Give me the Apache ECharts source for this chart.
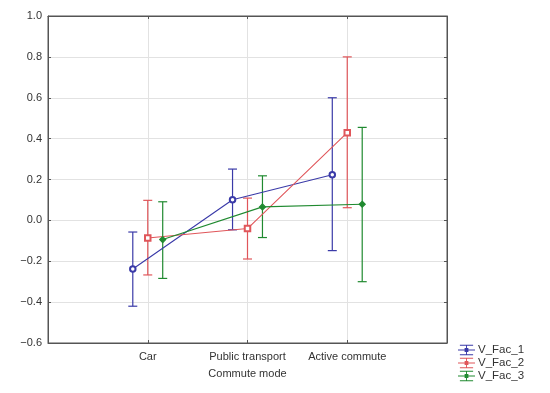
<!DOCTYPE html>
<html><head><meta charset="utf-8">
<script src="https://cdn.jsdelivr.net/npm/echarts@6/dist/echarts.min.js"></script>
<style>html,body{margin:0;padding:0;background:#fff}#c{width:550px;height:393px}</style>
</head><body><div id="c"></div>
<script>
var categories = ['Car', 'Public transport', 'Active commute'];
var seriesNames = ['V_Fac_1', 'V_Fac_2', 'V_Fac_3'];
var fac1Mean = [-0.238, 0.101, 0.223];
var fac1Low  = [-0.420, -0.046, -0.148];
var fac1High = [-0.057, 0.251, 0.600];
var fac2Mean = [-0.086, -0.040, 0.429];
var fac2Low  = [-0.267, -0.189, 0.062];
var fac2High = [0.098, 0.109, 0.800];
var fac3Mean = [-0.094, 0.066, 0.079];
var fac3Low  = [-0.284, -0.084, -0.300];
var fac3High = [0.091, 0.218, 0.455];
var yTicks = [-0.6, -0.4, -0.2, 0.0, 0.2, 0.4, 0.6, 0.8, 1.0];

var colors = ['#3a3aa8', '#e0565a', '#208a30'];
var symbols = ['emptyCircle', 'emptyRect', 'diamond'];
var symbolSizes = [5.5, 5.5, 6];
var offsets = [-0.15, 0, 0.15];
var means = [fac1Mean, fac2Mean, fac3Mean];
var lows = [fac1Low, fac2Low, fac3Low];
var highs = [fac1High, fac2High, fac3High];

var legendIcon = 'path://M2,0h14v1h-14z M2,10h14v1h-14z M8.5,0h1v11h-1z M0,5h18v1h-18z M7,3.5h4v4h-4z';

var series = [];
for (var s = 0; s < 3; s++) {
  (function (s) {
    var errData = categories.map(function (c, i) { return [i + 1 + offsets[s], lows[s][i], highs[s][i]]; });
    series.push({
      name: seriesNames[s], type: 'custom', z: 2,
      data: errData,
      encode: { x: 0, y: [1, 2] },
      renderItem: function (params, api) {
        var x = api.value(0);
        var lo = api.coord([x, api.value(1)]);
        var hi = api.coord([x, api.value(2)]);
        var hw = 4.5;
        var st = { stroke: colors[s], lineWidth: 1.2 };
        return { type: 'group', children: [
          { type: 'line', shape: { x1: lo[0], y1: lo[1], x2: hi[0], y2: hi[1] }, style: st },
          { type: 'line', shape: { x1: lo[0] - hw, y1: lo[1], x2: lo[0] + hw, y2: lo[1] }, style: st },
          { type: 'line', shape: { x1: hi[0] - hw, y1: hi[1], x2: hi[0] + hw, y2: hi[1] }, style: st }
        ]};
      }
    });
    series.push({
      name: seriesNames[s], type: 'line', z: 3,
      data: categories.map(function (c, i) { return [i + 1 + offsets[s], means[s][i]]; }),
      symbol: symbols[s], symbolSize: symbolSizes[s],
      lineStyle: { color: colors[s], width: 1.1 },
      itemStyle: { color: colors[s], borderColor: colors[s], borderWidth: 1.2 },
      animation: false
    });
  })(s);
}

var fmtY = function (v) { return v.toFixed(1).replace('-', '\u2212'); };
var chart = echarts.init(document.getElementById('c'));
chart.setOption({
  animation: false,
  grid: { left: 48, right: 103, top: 16, bottom: 50, show: true, borderColor: '#555', borderWidth: 1 },
  legend: {
    orient: 'vertical', left: 458, top: 344, itemGap: 1, itemWidth: 17, itemHeight: 11,
    padding: 0,
    textStyle: { fontFamily: 'Liberation Sans, Arial', fontSize: 11.5, color: '#333', padding: [0, 0, 0, -2] },
    data: seriesNames.map(function (n, i) { return { name: n, icon: legendIcon, itemStyle: { color: colors[i] } }; })
  },
  xAxis: [{
    type: 'value', min: 0, max: 4, interval: 1,
    name: 'Commute mode', nameLocation: 'middle', nameGap: 25,
    nameTextStyle: { fontFamily: 'Liberation Sans, Arial', fontSize: 11, color: '#333' },
    axisLine: { show: true, onZero: false, lineStyle: { color: '#555' } },
    axisTick: { show: true, inside: true, length: 3, lineStyle: { color: '#555' } },
    axisLabel: { fontFamily: 'Liberation Sans, Arial', fontSize: 11, color: '#333', margin: 8,
      formatter: function (v) { return categories[v - 1] || ''; } },
    splitLine: { show: true, lineStyle: { color: '#e2e2e2' } }
  }, {
    type: 'value', min: 0, max: 4, interval: 1, position: 'top',
    axisLine: { show: true, onZero: false, lineStyle: { color: '#555' } },
    axisTick: { show: true, inside: true, length: 3, lineStyle: { color: '#555' } },
    axisLabel: { show: false }, splitLine: { show: false }
  }],
  yAxis: [{
    type: 'value', min: -0.6, max: 1.0, interval: 0.2,
    axisLine: { show: true, onZero: false, lineStyle: { color: '#555' } },
    axisTick: { show: true, inside: true, length: 3, lineStyle: { color: '#555' } },
    axisLabel: { fontFamily: 'Liberation Sans, Arial', fontSize: 11, color: '#333', margin: 6, formatter: fmtY },
    splitLine: { show: true, lineStyle: { color: '#e2e2e2' } }
  }, {
    type: 'value', min: -0.6, max: 1.0, interval: 0.2, position: 'right',
    axisLine: { show: true, onZero: false, lineStyle: { color: '#555' } },
    axisTick: { show: true, inside: true, length: 3, lineStyle: { color: '#555' } },
    axisLabel: { show: false }, splitLine: { show: false }
  }],
  series: series
});
</script></body></html>
